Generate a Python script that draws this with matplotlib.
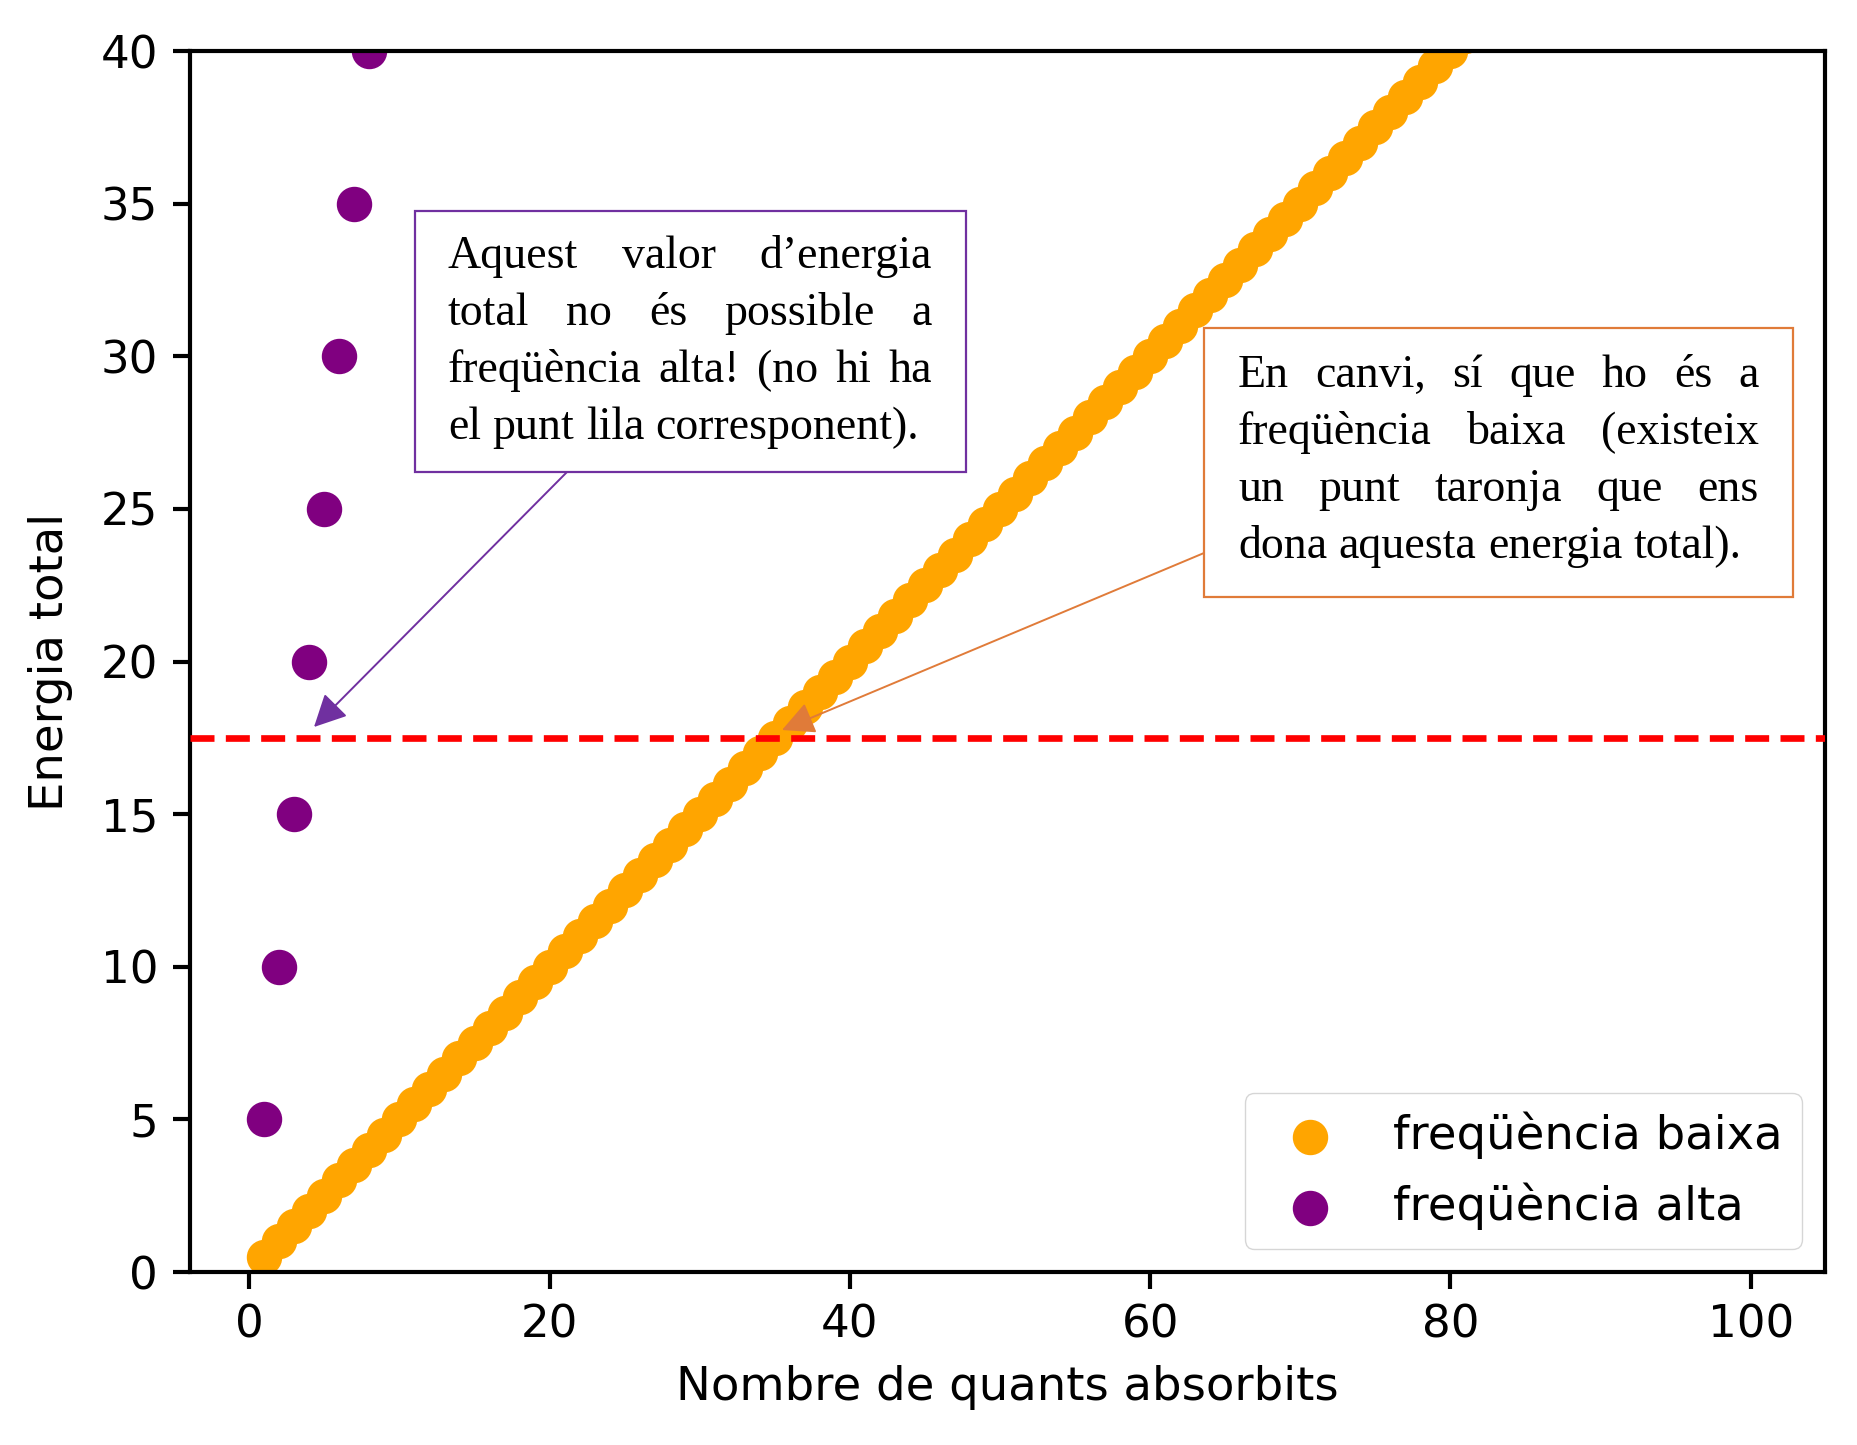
import matplotlib
matplotlib.use('Agg')
import matplotlib.pyplot as plt
from matplotlib.patches import Rectangle, FancyArrowPatch

# ── data ─────────────────────────────────────────────────────────────────
# low frequency: one point per absorbed quantum, energy 0.5 each
quants_baixa = [1, 2, 3, 4, 5, 6, 7, 8, 9, 10, 11, 12, 13, 14, 15, 16, 17, 18, 19, 20,
                21, 22, 23, 24, 25, 26, 27, 28, 29, 30, 31, 32, 33, 34, 35, 36, 37, 38, 39, 40,
                41, 42, 43, 44, 45, 46, 47, 48, 49, 50, 51, 52, 53, 54, 55, 56, 57, 58, 59, 60,
                61, 62, 63, 64, 65, 66, 67, 68, 69, 70, 71, 72, 73, 74, 75, 76, 77, 78, 79, 80,
                81, 82]
energia_baixa = [0.5, 1.0, 1.5, 2.0, 2.5, 3.0, 3.5, 4.0, 4.5, 5.0, 5.5, 6.0, 6.5, 7.0, 7.5,
                 8.0, 8.5, 9.0, 9.5, 10.0, 10.5, 11.0, 11.5, 12.0, 12.5, 13.0, 13.5, 14.0,
                 14.5, 15.0, 15.5, 16.0, 16.5, 17.0, 17.5, 18.0, 18.5, 19.0, 19.5, 20.0,
                 20.5, 21.0, 21.5, 22.0, 22.5, 23.0, 23.5, 24.0, 24.5, 25.0, 25.5, 26.0,
                 26.5, 27.0, 27.5, 28.0, 28.5, 29.0, 29.5, 30.0, 30.5, 31.0, 31.5, 32.0,
                 32.5, 33.0, 33.5, 34.0, 34.5, 35.0, 35.5, 36.0, 36.5, 37.0, 37.5, 38.0,
                 38.5, 39.0, 39.5, 40.0, 40.5, 41.0]
# high frequency: energy 5 per quantum
quants_alta = [1, 2, 3, 4, 5, 6, 7, 8]
energia_alta = [5, 10, 15, 20, 25, 30, 35, 40]

energia_ref = 17.5
XLIM = (-3.95, 104.95)   # default 5% margins of the full 1..100 range
YLIM = (0, 40)

TEXT_ALTA = ["Aquest valor d\u2019energia",
             "total no és possible a",
             "freqüència alta! (no hi ha",
             "el punt lila corresponent)."]
TEXT_BAIXA = ["En canvi, sí que ho és a",
              "freqüència baixa (existeix",
              "un punt taronja que ens",
              "dona aquesta energia total)."]

W, H = 1858, 1445
PURPLE_BOX = '#7030A0'
ORANGE_BOX = '#E07B39'


def fpos(x, y):
    """pixel position measured from the top-left corner -> figure fraction"""
    return x / W, 1 - y / H


def justified(fig, lines, left, right, first_base, spacing, size):
    renderer = fig.canvas.get_renderer()
    for i, line in enumerate(lines):
        words = line.split()
        y = first_base + i * spacing
        texts = [fig.text(0, 0, w, fontsize=size, family='Liberation Serif',
                          va='baseline', ha='left', zorder=5) for w in words]
        widths = [t.get_window_extent(renderer).width for t in texts]
        last = i == len(lines) - 1
        if last or len(words) == 1:
            gap = renderer.points_to_pixels(size) * 0.25
        else:
            gap = (right - left - sum(widths)) / (len(words) - 1)
        x = left
        for t, wd in zip(texts, widths):
            t.set_position(fpos(x, y))
            x += wd + gap


def plot():
    fig = plt.figure(figsize=(W / 100, H / 100), dpi=100)
    ax = fig.add_axes([190 / W, 1 - 1272 / H, (1825 - 190) / W, (1272 - 51) / H])

    ax.scatter(quants_baixa, energia_baixa, s=600, color='orange',
               label='freqüència baixa', zorder=2)
    ax.scatter(quants_alta, energia_alta, s=600, color='purple',
               label='freqüència alta', zorder=2)
    ax.axhline(energia_ref, color='red', lw=4.8, dashes=(3.6, 1.7), zorder=3)

    ax.set_xlim(*XLIM)
    ax.set_ylim(*YLIM)
    ax.set_xticks([0, 20, 40, 60, 80, 100])
    ax.set_yticks([0, 5, 10, 15, 20, 25, 30, 35, 40])
    ax.tick_params(labelsize=32.5, length=12, width=3.0, pad=11)
    for sp in ax.spines.values():
        sp.set_linewidth(3.0)

    ax.set_xlabel('Nombre de quants absorbits', fontsize=33.5, labelpad=13)
    ax.set_ylabel('Energia total', fontsize=33.5, labelpad=20)
    ax.legend(loc='lower right', fontsize=33.5)

    # ── annotation boxes ────────────────────────────────────────────────
    for (x0, y0, x1, y1), ec in [((415, 211, 966, 472), PURPLE_BOX),
                                 ((1204, 328, 1793, 597), ORANGE_BOX)]:
        fig.add_artist(Rectangle(fpos(x0, y1), (x1 - x0) / W, (y1 - y0) / H,
                                 transform=fig.transFigure, facecolor='white',
                                 edgecolor=ec, lw=1.6, zorder=4))

    justified(fig, TEXT_ALTA, 448, 932, 268, 57, 33)
    justified(fig, TEXT_BAIXA, 1238, 1759, 387, 57, 33)

    for tail, tip, col in [((567, 472), (314, 727), PURPLE_BOX),
                           ((1204, 553), (782, 730), ORANGE_BOX)]:
        fig.add_artist(FancyArrowPatch(fpos(*tail), fpos(*tip),
                                       transform=fig.transFigure,
                                       arrowstyle='-|>', mutation_scale=50,
                                       color=col, lw=1.4, shrinkA=0, shrinkB=0,
                                       zorder=4))

    fig.savefig('out.png', dpi=100)
    plt.close(fig)


if __name__ == '__main__':
    plot()
